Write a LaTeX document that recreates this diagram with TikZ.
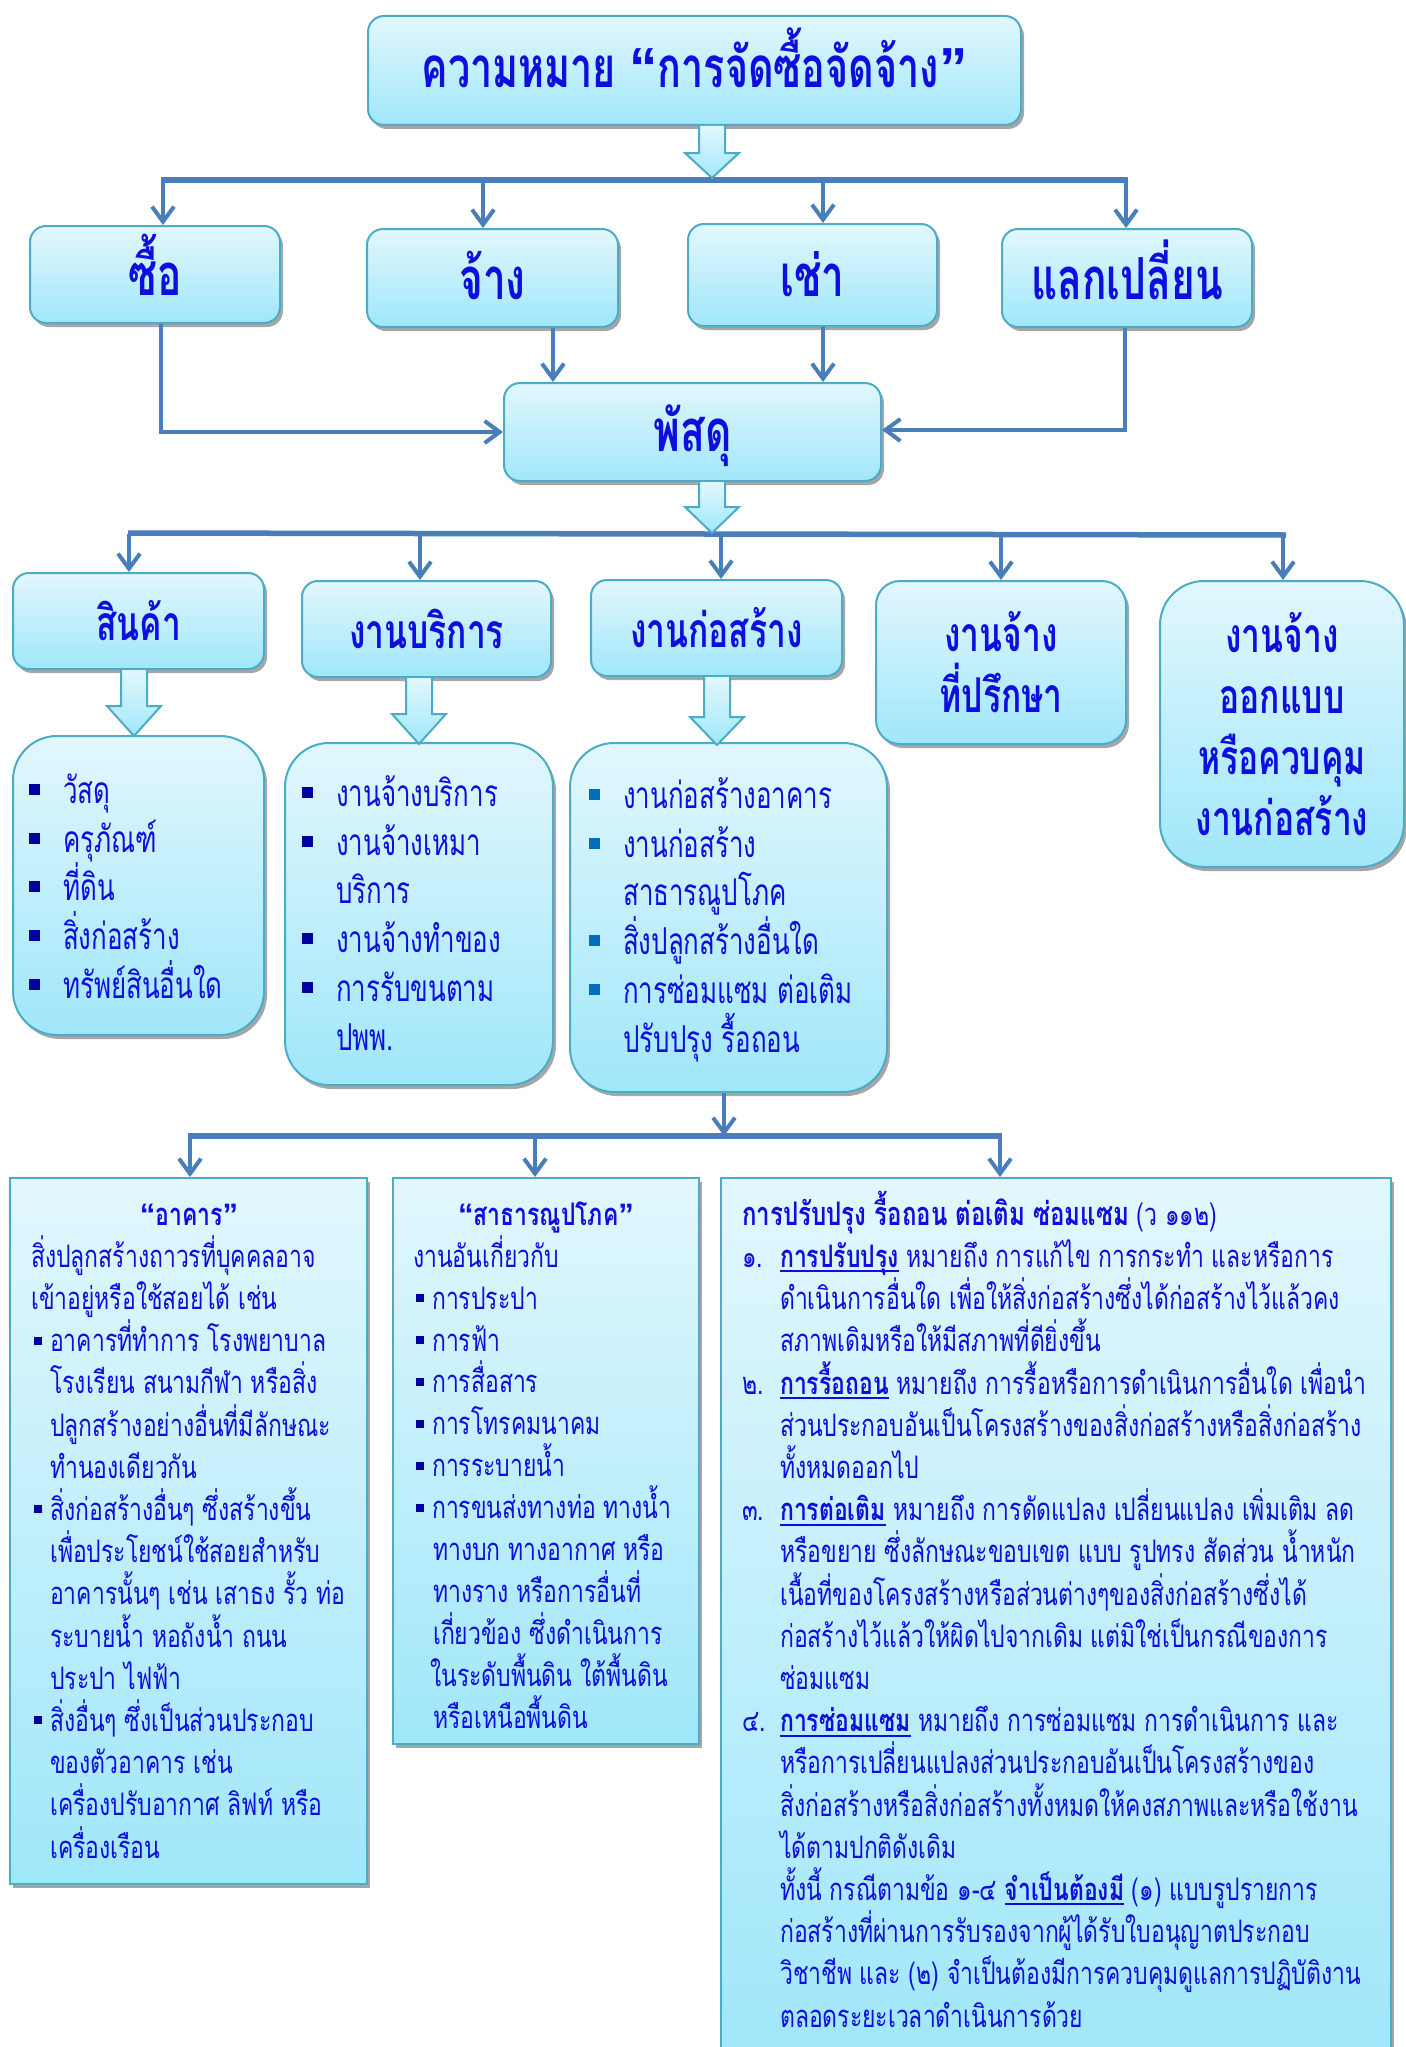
\documentclass[tikz,border=0pt]{standalone}
\usepackage{fontspec}
\usetikzlibrary{arrows.meta,shadows,calc}
\newfontfamily\thaihead[Script=Thai,FakeStretch=0.70]{Loma}
\newfontfamily\thaibody[Script=Thai,FakeStretch=0.74]{Loma}
\newfontfamily\quotefont{Liberation Sans}

\definecolor{inkblue}{RGB}{14,14,222}
\definecolor{wireblue}{RGB}{74,126,187}
\definecolor{edgecyan}{RGB}{75,172,198}
\definecolor{fillhi}{RGB}{226,247,253}
\definecolor{filllo}{RGB}{160,231,250}
\definecolor{bulnavy}{RGB}{0,0,160}
\definecolor{bulsky}{RGB}{0,110,190}

% curly quotation marks
\newcommand{\oq}{{\quotefont “}}
\newcommand{\cq}{{\quotefont ”}}
% square bullet: colour, side, raise, slot width
\newcommand{\sqbul}[4]{\makebox[#4][l]{\textcolor{#1}{\rule[#3]{#2}{#2}}}}
\newcommand{\lbul}{\sqbul{bulnavy}{11pt}{8.5pt}{34pt}}
\newcommand{\lbulsky}{\sqbul{bulsky}{11pt}{8.5pt}{34pt}}
\newcommand{\sbul}{\hspace*{3pt}\sqbul{bulnavy}{8pt}{7pt}{16pt}}
% thick underline below a word
\newsavebox\uwordbox
\newcommand{\uword}[1]{\sbox\uwordbox{#1}\rlap{\rule[-5pt]{\wd\uwordbox}{2pt}}\usebox\uwordbox}
% hollow shaded block arrow: tail, tip, head length
\newcommand{\blockarrow}[3]{%
  \draw[cyanfill,line join=miter]
    ($(#1)+(-13,0)$) -- ($(#2)+(-13,-#3)$) -- ($(#2)+(-27,-#3)$) -- (#2)
    -- ($(#2)+(27,-#3)$) -- ($(#2)+(13,-#3)$) -- ($(#1)+(13,0)$);}

\begin{document}
\begin{tikzpicture}[x=1pt,y=-1pt,
  cyanfill/.style={draw=edgecyan,line width=2pt,top color=fillhi,bottom color=filllo},
  softshadow/.style={drop shadow={shadow xshift=3pt,shadow yshift=-4pt,fill=black,opacity=0.35}},
  card/.style={cyanfill,softshadow,inner sep=0pt,text=inkblue},
  toplabel/.style={card,rounded corners=16pt,text height=54pt,text depth=12pt,
    font=\thaihead\bfseries\fontsize{58}{64}\selectfont},
  kindlabel/.style={card,align=center,rounded corners=16pt,font=\thaihead\bfseries\fontsize{48}{61}\selectfont},
  listcard/.style={cyanfill,softshadow,rounded corners=44pt,inner sep=0pt},
  sheet/.style={cyanfill,softshadow,inner sep=0pt},
  listtext/.style={inner sep=0pt,align=left,text=inkblue,anchor=north west,
    font=\thaihead\fontsize{37}{48.8}\selectfont},
  bodytext/.style={inner sep=0pt,align=left,text=inkblue,anchor=north west,
    font=\thaibody\fontsize{31}{42.2}\selectfont},
  sheettitle/.style={inner sep=0pt,text=inkblue,anchor=base,
    font=\thaibody\bfseries\fontsize{31}{42.2}\selectfont},
  wire/.style={draw=wireblue,line width=4pt},
  bus/.style={draw=wireblue,line width=5.5pt},
  wirearrow/.style={-{Straight Barb[length=15pt,width=22pt]}},
]
\useasboundingbox (0,0) rectangle (1405,2047);
\fill[white] (0,0) rectangle (1405,2047);

% ---------- top level ----------
\node[toplabel,text height=46pt,font=\thaihead\bfseries\fontsize{56.5}{64}\selectfont,
  minimum width=653pt,minimum height=109pt] (title) at (694.5,70.5)
  {ความหมาย \oq การจัดซื้อจัดจ้าง\cq};

\node[toplabel,minimum width=250pt,minimum height=97pt]  (b1) at (155,274.5) {ซื้อ};
\node[toplabel,minimum width=251pt,minimum height=98pt]  (b2) at (492.5,278) {จ้าง};
\node[toplabel,minimum width=249pt,minimum height=102pt] (b3) at (812.5,275) {เช่า};
\node[toplabel,minimum width=250pt,minimum height=98pt]  (b4) at (1127,278) {แลกเปลี่ยน};

\node[toplabel,text height=50pt,minimum width=377pt,minimum height=98pt] (pasdu) at (692.5,432) {พัสดุ};

% bus below the title
\draw[bus] (161,180) -- (1128,180);
\foreach \xx/\nn in {163/b1,483/b2,823/b3,1126/b4}{
  \coordinate (dA) at (\xx,180);
  \draw[wire,wirearrow] (dA) -- (dA |- \nn.north);
}
\coordinate (tipA) at (712,178);
\coordinate (tailA) at (tipA |- title.south);
\blockarrow{tailA}{tipA}{25}

% links into the supplies box
\coordinate (k1) at (161,432);
\coordinate (k2) at (553,432);
\coordinate (k3) at (823,432);
\coordinate (k4) at (1125,430);
\draw[wire,wirearrow] (k1 |- b1.south) -- (k1) -- (k1 -| pasdu.west);
\draw[wire,wirearrow] (k2 |- b2.south) -- (k2 |- pasdu.north);
\draw[wire,wirearrow] (k3 |- b3.south) -- (k3 |- pasdu.north);
\draw[wire,wirearrow] (k4 |- b4.south) -- (k4) -- (k4 -| pasdu.east);

% ---------- kinds of supplies ----------
\node[kindlabel,minimum width=251pt,minimum height=96pt] (c1) at (138.5,621) {สินค้า};
\node[kindlabel,minimum width=249pt,minimum height=96pt] (c2) at (426.5,629) {งานบริการ};
\node[kindlabel,minimum width=251pt,minimum height=96pt] (c3) at (716.5,628) {งานก่อสร้าง};
\node[kindlabel,rounded corners=24pt,minimum width=250pt,minimum height=163pt] (c4) at (1001,662.5)
  {งานจ้าง\\ที่ปรึกษา};
\node[kindlabel,rounded corners=44pt,minimum width=244pt,minimum height=286pt] (c5) at (1282,724)
  {งานจ้าง\\ออกแบบ\\หรือควบคุม\\งานก่อสร้าง};

\draw[bus] (128,533) -- (1286,535);
\foreach \xx/\nn in {129/c1,420/c2,721/c3,1001/c4,1283/c5}{
  \coordinate (dB) at (\xx,534);
  \draw[wire,wirearrow] (dB) -- (dB |- \nn.north);
}
\coordinate (tipB) at (712,533);
\coordinate (tailB) at (tipB |- pasdu.south);
\blockarrow{tailB}{tipB}{26}

% ---------- item lists ----------
\node[listcard,minimum width=251pt,minimum height=299pt] (l1) at (138.5,885.5) {};
\node[listcard,minimum width=268pt,minimum height=342pt] (l2) at (419,914) {};
\node[listcard,minimum width=317pt,minimum height=349pt] (l3) at (728.5,917.5) {};

\node[listtext] (l1t) at (29,763) {%
  \lbul\rule{0pt}{40pt}วัสดุ\\
  \lbul ครุภัณฑ์\\
  \lbul ที่ดิน\\
  \lbul สิ่งก่อสร้าง\\
  \lbul ทรัพย์สินอื่นใด};
\node[listtext] (l2t) at (302,766) {%
  \lbul\rule{0pt}{40pt}งานจ้างบริการ\\
  \lbul งานจ้างเหมา\\
  \hspace*{34pt}บริการ\\
  \lbul งานจ้างทำของ\\
  \lbul การรับขนตาม\\
  \hspace*{34pt}ปพพ.};
\node[listtext] (l3t) at (589,768) {%
  \lbulsky\rule{0pt}{40pt}งานก่อสร้างอาคาร\\
  \lbulsky งานก่อสร้าง\\
  \hspace*{34pt}สาธารณูปโภค\\
  \lbulsky สิ่งปลูกสร้างอื่นใด\\
  \lbulsky การซ่อมแซม ต่อเติม\\
  \hspace*{34pt}ปรับปรุง รื้อถอน};

\coordinate (t1) at (134,736);
\coordinate (t2) at (419,744);
\coordinate (t3) at (717,745);
\coordinate (s1) at (t1 |- c1.south);
\coordinate (s2) at (t2 |- c2.south);
\coordinate (s3) at (t3 |- c3.south);
\blockarrow{s1}{t1}{30}
\blockarrow{s2}{t2}{30}
\blockarrow{s3}{t3}{28}

% ---------- construction details ----------
\node[sheet,minimum width=357pt,minimum height=706pt] (d1) at (188.5,1531) {};
\node[sheet,minimum width=306pt,minimum height=566pt] (d2) at (546,1461) {};
\node[sheet,minimum width=670pt,minimum height=882pt] (d3) at (1056,1619) {};

\coordinate (k5) at (724,1136);
\draw[wire,wirearrow] (k5 |- l3.south) -- (k5);
\draw[bus] (188,1136) -- (1002,1136);
\foreach \xx/\nn in {190/d1,535/d2,1000/d3}{
  \coordinate (dC) at (\xx,1136);
  \draw[wire,wirearrow] (dC) -- (dC |- \nn.north);
}

\node[sheettitle] (d1h) at (189,1225) {\oq อาคาร\cq};
\node[bodytext] (d1t) at (31,1231) {%
  \rule{0pt}{36pt}สิ่งปลูกสร้างถาวรที่บุคคลอาจ\\
  เข้าอยู่หรือใช้สอยได้ เช่น\\
  \sbul อาคารที่ทำการ โรงพยาบาล\\
  \hspace*{19pt}โรงเรียน สนามกีฬา หรือสิ่ง\\
  \hspace*{19pt}ปลูกสร้างอย่างอื่นที่มีลักษณะ\\
  \hspace*{19pt}ทำนองเดียวกัน\\
  \sbul สิ่งก่อสร้างอื่นๆ ซึ่งสร้างขึ้น\\
  \hspace*{19pt}เพื่อประโยชน์ใช้สอยสำหรับ\\
  \hspace*{19pt}อาคารนั้นๆ เช่น เสาธง รั้ว ท่อ\\
  \hspace*{19pt}ระบายน้ำ หอถังน้ำ ถนน\\
  \hspace*{19pt}ประปา ไฟฟ้า\\
  \sbul สิ่งอื่นๆ ซึ่งเป็นส่วนประกอบ\\
  \hspace*{19pt}ของตัวอาคาร เช่น\\
  \hspace*{19pt}เครื่องปรับอากาศ ลิฟท์ หรือ\\
  \hspace*{19pt}เครื่องเรือน};

\node[sheettitle] (d2h) at (546,1225) {\oq สาธารณูปโภค\cq};
\node[bodytext,font=\thaibody\fontsize{31}{41.9}\selectfont] (d2t) at (413,1231) {%
  \rule{0pt}{36pt}งานอันเกี่ยวกับ\\
  \sbul การประปา\\
  \sbul การฟ้า\\
  \sbul การสื่อสาร\\
  \sbul การโทรคมนาคม\\
  \sbul การระบายน้ำ\\
  \sbul การขนส่งทางท่อ ทางน้ำ\\
  \hspace*{20pt}ทางบก ทางอากาศ หรือ\\
  \hspace*{20pt}ทางราง หรือการอื่นที่\\
  \hspace*{20pt}เกี่ยวข้อง ซึ่งดำเนินการ\\
  \hspace*{17pt}ในระดับพื้นดิน ใต้พื้นดิน\\
  \hspace*{20pt}หรือเหนือพื้นดิน};

\node[bodytext] (d3t) at (742,1189) {%
  \rule{0pt}{36pt}{\fontsize{32.5}{42.2}\selectfont\textbf{การปรับปรุง รื้อถอน ต่อเติม ซ่อมแซม}} (ว ๑๑๒)\\
  \makebox[38pt][l]{๑.}\uword{\textbf{การปรับปรุง}} หมายถึง การแก้ไข การกระทำ และหรือการ\\
  \hspace*{38pt}ดำเนินการอื่นใด เพื่อให้สิ่งก่อสร้างซึ่งได้ก่อสร้างไว้แล้วคง\\
  \hspace*{38pt}สภาพเดิมหรือให้มีสภาพที่ดียิ่งขึ้น\\
  \makebox[38pt][l]{๒.}\uword{\textbf{การรื้อถอน}} หมายถึง การรื้อหรือการดำเนินการอื่นใด เพื่อนำ\\
  \hspace*{38pt}ส่วนประกอบอันเป็นโครงสร้างของสิ่งก่อสร้างหรือสิ่งก่อสร้าง\\
  \hspace*{38pt}ทั้งหมดออกไป\\
  \makebox[38pt][l]{๓.}\uword{\textbf{การต่อเติม}} หมายถึง การดัดแปลง เปลี่ยนแปลง เพิ่มเติม ลด\\
  \hspace*{38pt}หรือขยาย ซึ่งลักษณะขอบเขต แบบ รูปทรง สัดส่วน น้ำหนัก\\
  \hspace*{38pt}เนื้อที่ของโครงสร้างหรือส่วนต่างๆของสิ่งก่อสร้างซึ่งได้\\
  \hspace*{38pt}ก่อสร้างไว้แล้วให้ผิดไปจากเดิม แต่มิใช่เป็นกรณีของการ\\
  \hspace*{38pt}ซ่อมแซม\\
  \makebox[38pt][l]{๔.}\uword{\textbf{การซ่อมแซม}} หมายถึง การซ่อมแซม การดำเนินการ และ\\
  \hspace*{38pt}หรือการเปลี่ยนแปลงส่วนประกอบอันเป็นโครงสร้างของ\\
  \hspace*{38pt}สิ่งก่อสร้างหรือสิ่งก่อสร้างทั้งหมดให้คงสภาพและหรือใช้งาน\\
  \hspace*{38pt}ได้ตามปกติดังเดิม\\
  \hspace*{38pt}ทั้งนี้ กรณีตามข้อ ๑-๔ \uword{\textbf{จำเป็นต้องมี}} (๑) แบบรูปรายการ\\
  \hspace*{38pt}ก่อสร้างที่ผ่านการรับรองจากผู้ได้รับใบอนุญาตประกอบ\\
  \hspace*{38pt}วิชาชีพ และ (๒) จำเป็นต้องมีการควบคุมดูแลการปฏิบัติงาน\\
  \hspace*{38pt}ตลอดระยะเวลาดำเนินการด้วย};
\end{tikzpicture}
\end{document}
